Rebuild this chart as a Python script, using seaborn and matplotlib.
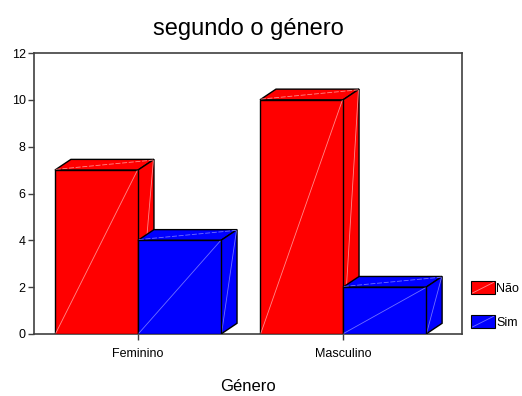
import matplotlib
matplotlib.use("Agg")
import matplotlib.pyplot as plt
import pandas as pd
import seaborn as sns
from matplotlib.patches import Polygon, Rectangle
from matplotlib.lines import Line2D
from matplotlib.legend_handler import HandlerBase

# Contagens por género e resposta
generos = ["Feminino", "Masculino"]
respostas = ["Não", "Sim"]
contagem_nao = [7, 10]
contagem_sim = [4, 2]
yticks = [0, 2, 4, 6, 8, 10, 12]

cores = {"Não": "#FF0000", "Sim": "#0000FF"}
brilho = {"Não": "#FF8A8A", "Sim": "#7070FF"}

df = pd.DataFrame({
    "Género": generos * 2,
    "Resposta": ["Não"] * len(generos) + ["Sim"] * len(generos),
    "Contagem": contagem_nao + contagem_sim,
})

sns.set_theme(style="ticks")
plt.rcParams["font.family"] = ["Liberation Sans", "DejaVu Sans"]
plt.rcParams["text.color"] = "black"
plt.rcParams["axes.labelcolor"] = "black"
plt.rcParams["xtick.labelcolor"] = "black"
plt.rcParams["ytick.labelcolor"] = "black"

W, H = 522, 396
fig = plt.figure(figsize=(W / 100, H / 100), dpi=100)
ax = fig.add_axes([34 / W, (H - 334) / H, (462 - 34) / W, (334 - 53) / H])

sns.barplot(data=df, x="Género", y="Contagem", hue="Resposta",
            order=generos, hue_order=respostas, palette=cores,
            width=0.81, gap=0, saturation=1, errorbar=None,
            edgecolor="black", linewidth=1.0, legend=False, ax=ax)

ax.set_xlim(-0.507, 1.580)
ax.set_ylim(0, 12)

# profundidade das barras (efeito 3D), em unidades de dados
dx, dy = 0.078, 0.457

for h, (resp, cont) in enumerate(zip(respostas, ax.containers)):
    base = 2 + 2 * h
    fc = cores[resp]
    lc = brilho[resp]
    for bar in cont:
        x0 = bar.get_x()
        w = bar.get_width()
        v = bar.get_height()
        x1 = x0 + w
        bar.set_zorder(base + 1)
        # face superior
        top = Polygon([(x0, v), (x1, v), (x1 + dx, v + dy), (x0 + dx, v + dy)],
                      closed=True, facecolor=fc, edgecolor="black",
                      linewidth=1.0, zorder=base)
        # face lateral
        side = Polygon([(x1, 0), (x1 + dx, dy), (x1 + dx, v + dy), (x1, v)],
                       closed=True, facecolor=fc, edgecolor="black",
                       linewidth=1.0, zorder=base)
        ax.add_patch(top)
        ax.add_patch(side)
        ax.plot([x0 + 0.004, x1 + dx - 0.004], [v + 0.03, v + dy - 0.03],
                color=lc, lw=0.6, ls=(0, (6, 2)), zorder=base + 0.5)
        ax.plot([x1 + dx - 0.003, x1 + 0.003], [v + dy - 0.05, 0.05],
                color=lc, lw=0.6, zorder=base + 0.5)
        ax.plot([x0 + 0.004, x1 - 0.004], [0.03, v - 0.03],
                color=lc, lw=0.6, zorder=base + 1.5)

ax.set_yticks(yticks)
ax.set_yticklabels([str(t) for t in yticks])
ax.set_title("segundo o género", fontsize=17, pad=13)
ax.set_xlabel("Género", fontsize=12, labelpad=14)
ax.set_ylabel("")

for s in ax.spines.values():
    s.set_visible(True)
    s.set_color("#404040")
    s.set_linewidth(1.2)
ax.tick_params(axis="y", length=4, width=1, labelsize=9, pad=2, color="#404040")
ax.tick_params(axis="x", length=4, width=1, labelsize=9, pad=6, color="#404040")


class HandlerCaixa(HandlerBase):
    def create_artists(self, legend, orig_handle, xdescent, ydescent,
                       width, height, fontsize, trans):
        x, y = -xdescent, -ydescent
        rect = Rectangle((x, y), width, height,
                         facecolor=orig_handle.get_facecolor(),
                         edgecolor="black", linewidth=0.8, transform=trans)
        diag = Line2D([x + 1, x + width - 1], [y + 1, y + height - 1],
                      color=orig_handle.get_gid(), lw=0.6, transform=trans)
        return [rect, diag]


handles = []
for r in respostas:
    p = Rectangle((0, 0), 1, 1, facecolor=cores[r], edgecolor="black")
    p.set_gid(brilho[r])
    handles.append(p)

ax.legend(handles=handles, labels=respostas, loc="upper left",
          bbox_to_anchor=(471 / W, 1 - 281 / H), bbox_transform=fig.transFigure,
          frameon=False, fontsize=9, handlelength=1.92, handleheight=1.28,
          handletextpad=0.1, labelspacing=1.6, borderpad=0, borderaxespad=0,
          handler_map={Rectangle: HandlerCaixa()})

fig.savefig("out.png", dpi=100)
